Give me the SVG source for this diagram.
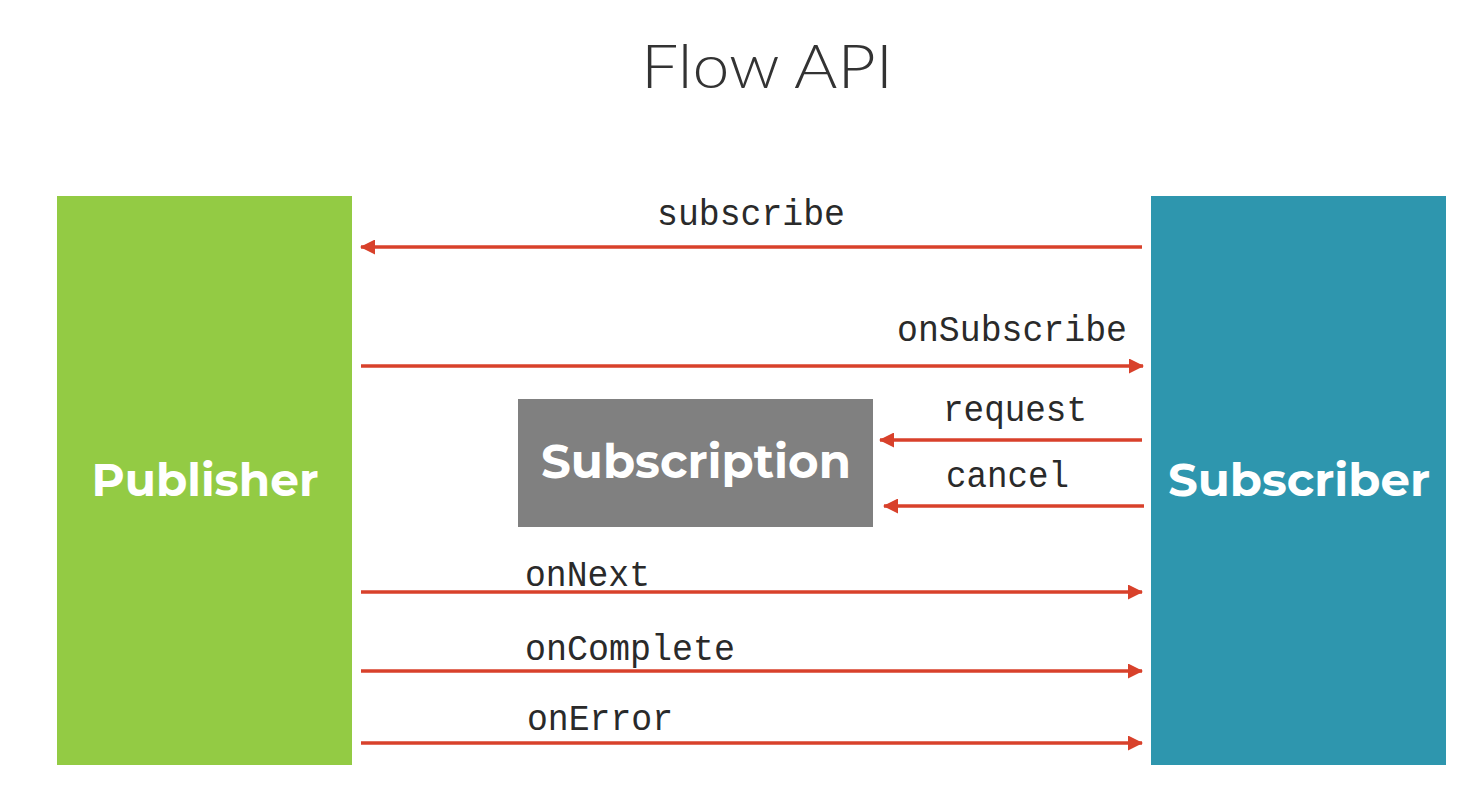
<svg xmlns="http://www.w3.org/2000/svg" width="1467" height="792" viewBox="0 0 1467 792">
<style>
.lbl{font-family:"Liberation Mono","DejaVu Sans Mono",monospace;font-size:36px;fill:#2a2a2a}
.node{font-family:"Montserrat","Lato","Open Sans",sans-serif;font-weight:700;fill:#ffffff;text-anchor:middle}
.arr{stroke:#d8412b;stroke-width:3.5;fill:none;marker-end:url(#ah)}
</style>
<defs>
<marker id="ah" viewBox="0 0 15 15" refX="14" refY="7.5" markerWidth="15" markerHeight="15" markerUnits="userSpaceOnUse" orient="auto">
<path d="M0,0 L15,7.5 L0,15 Z" fill="#d8412b"/>
</marker>
</defs>
<rect width="1467" height="792" fill="#ffffff"/>
<text x="767" y="88" font-family="Lato,'Open Sans',sans-serif" font-weight="300" font-size="62" fill="#333333" text-anchor="middle" textLength="252" lengthAdjust="spacingAndGlyphs">Flow API</text>
<g id="publisher">
<rect x="57" y="196" width="295" height="569" fill="#93cb44"/>
<text class="node" x="205" y="496" font-size="46" textLength="227" lengthAdjust="spacingAndGlyphs">Publisher</text>
</g>
<g id="subscriber">
<rect x="1151" y="196" width="295" height="569" fill="#2e96ae"/>
<text class="node" x="1299" y="496" font-size="46" textLength="262" lengthAdjust="spacingAndGlyphs">Subscriber</text>
</g>
<g id="subscription">
<rect x="518" y="399" width="355" height="128" fill="#808080"/>
<text class="node" x="696" y="478" font-size="48" textLength="310" lengthAdjust="spacingAndGlyphs">Subscription</text>
</g>
<g id="connectors">
<line class="arr" x1="1142" y1="247" x2="361" y2="247"/>
<line class="arr" x1="361" y1="366" x2="1143" y2="366"/>
<line class="arr" x1="1142" y1="440" x2="880" y2="440"/>
<line class="arr" x1="1144" y1="506" x2="884" y2="506"/>
<line class="arr" x1="361" y1="592" x2="1142" y2="592"/>
<line class="arr" x1="361" y1="671" x2="1142" y2="671"/>
<line class="arr" x1="361" y1="743" x2="1142" y2="743"/>
<text class="lbl" x="657" y="225" textLength="188" lengthAdjust="spacingAndGlyphs">subscribe</text>
<text class="lbl" x="897" y="341" textLength="230" lengthAdjust="spacingAndGlyphs">onSubscribe</text>
<text class="lbl" x="943" y="421" textLength="144" lengthAdjust="spacingAndGlyphs">request</text>
<text class="lbl" x="946" y="487" textLength="123" lengthAdjust="spacingAndGlyphs">cancel</text>
<text class="lbl" x="525" y="586" textLength="125" lengthAdjust="spacingAndGlyphs">onNext</text>
<text class="lbl" x="525" y="660" textLength="210" lengthAdjust="spacingAndGlyphs">onComplete</text>
<text class="lbl" x="527" y="730" textLength="146" lengthAdjust="spacingAndGlyphs">onError</text>
</g>
</svg>
